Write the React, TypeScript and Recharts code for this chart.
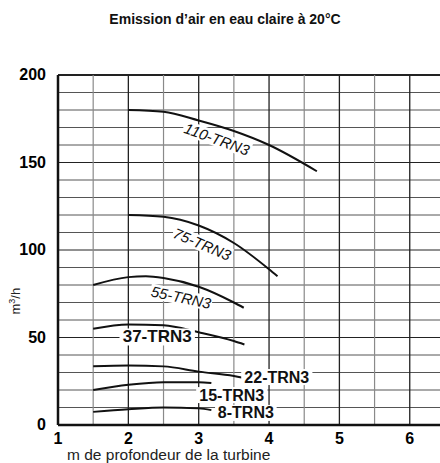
import React from "react";
import { LineChart, Line, XAxis, YAxis, ReferenceLine, ReferenceDot } from "recharts";

const xTicks = [1, 2, 3, 4, 5, 6];
const yTicks = [0, 50, 100, 150, 200];
const xGridMajor = [2, 3, 4, 5, 6];
const xGridMinor = [1.5, 2.5, 3.5, 4.5, 5.5];
const yGrid = [10, 20, 30, 40, 50, 60, 70, 80, 90, 100, 110, 120, 130, 140, 150, 160, 170, 180, 190, 200];

const s110 = [
  { x: 2.0, y: 180 }, { x: 2.5, y: 179 }, { x: 3.0, y: 174 }, { x: 3.5, y: 168 }, { x: 4.0, y: 160 }, { x: 4.68, y: 145 },
];
const s75 = [
  { x: 2.0, y: 120 }, { x: 2.5, y: 119 }, { x: 3.0, y: 114 }, { x: 3.5, y: 104 }, { x: 4.0, y: 89 }, { x: 4.12, y: 85 },
];
const s55 = [
  { x: 1.5, y: 80 }, { x: 2.0, y: 84.5 }, { x: 2.25, y: 85 }, { x: 2.5, y: 84 }, { x: 3.0, y: 79 }, { x: 3.5, y: 70 }, { x: 3.64, y: 67 },
];
const s37 = [
  { x: 1.5, y: 55 }, { x: 2.0, y: 57.5 }, { x: 2.5, y: 57 }, { x: 3.0, y: 53 }, { x: 3.5, y: 48 }, { x: 3.65, y: 46 },
];
const s22 = [
  { x: 1.5, y: 33.5 }, { x: 2.0, y: 34 }, { x: 2.5, y: 33.5 }, { x: 3.0, y: 30.5 }, { x: 3.5, y: 28 }, { x: 3.63, y: 27 },
];
const s15 = [
  { x: 1.5, y: 20 }, { x: 2.0, y: 23 }, { x: 2.5, y: 24.5 }, { x: 3.0, y: 24.5 }, { x: 3.18, y: 24 },
];
const s8 = [
  { x: 1.5, y: 7.5 }, { x: 2.0, y: 9 }, { x: 2.5, y: 10 }, { x: 3.0, y: 9.5 }, { x: 3.18, y: 8.5 },
];

const series = [s110, s75, s55, s37, s22, s15, s8];

const labels = [
  { text: "110-TRN3", x: 3.26, y: 163.4, angle: 20, italic: true, bold: false, size: 15 },
  { text: "75-TRN3", x: 3.05, y: 103.4, angle: 23, italic: true, bold: false, size: 15 },
  { text: "55-TRN3", x: 2.75, y: 73, angle: 12, italic: true, bold: false, size: 15 },
  { text: "37-TRN3", x: 2.41, y: 50.3, angle: 0, italic: false, bold: true, size: 17 },
  { text: "22-TRN3", x: 4.11, y: 27.4, angle: 0, italic: false, bold: true, size: 16 },
  { text: "15-TRN3", x: 3.47, y: 17.1, angle: 0, italic: false, bold: true, size: 16 },
  { text: "8-TRN3", x: 3.67, y: 6.9, angle: 0, italic: false, bold: true, size: 16 },
];

const FONT = "'Liberation Sans', Arial, Helvetica, sans-serif";

const makeShape = (l: any) => (props: any) => {
  const { cx, cy } = props;
  const w = l.text.length * l.size * (l.bold ? 0.6 : 0.56);
  const h = l.size * 1.0;
  return (
    <g transform={`translate(${cx},${cy}) rotate(${l.angle})`}>
      <rect x={-w / 2 - 2} y={-h / 2} width={w + 4} height={h} fill="#fff" />
      <text
        x={0}
        y={0}
        textAnchor="middle"
        dominantBaseline="central"
        fontFamily={FONT}
        fontSize={l.size}
        fontWeight={l.bold ? "bold" : "normal"}
        fontStyle={l.italic ? "italic" : "normal"}
        fill="#111"
      >
        {l.text}
      </text>
    </g>
  );
};

const XTick = (props: any) => {
  const { x, y, payload } = props;
  return (
    <text x={x} y={y} dy={12} textAnchor="middle" fontFamily={FONT} fontSize={16} fontWeight={700} fill="#000">
      {payload.value}
    </text>
  );
};

const YTick = (props: any) => {
  const { x, y, payload } = props;
  return (
    <text x={x} y={y} dy={5} textAnchor="end" fontFamily={FONT} fontSize={16} fontWeight={700} fill="#000">
      {payload.value}
    </text>
  );
};

export default function App() {
  return (
    <div style={{ position: "absolute", left: 0, top: 0, width: 440, height: 463, overflow: "hidden", background: "#fff", fontFamily: FONT }}>
      <div style={{ position: "absolute", left: 0, width: 450, top: 11, textAlign: "center", fontSize: 14, fontWeight: "bold", color: "#111" }}>
        Emission d’air en eau claire à 20°C
      </div>
      <div style={{ position: "absolute", left: -15, top: 293, width: 60, textAlign: "center", fontSize: 13, color: "#222", transform: "rotate(-90deg)" }}>
        m<sup style={{ fontSize: 9 }}>3</sup>/h
      </div>
      <div style={{ position: "absolute", left: 67, top: 446, fontSize: 15.5, lineHeight: "17px", color: "#222", whiteSpace: "nowrap" }}>
        m de profondeur de la turbine
      </div>
      <div style={{ position: "absolute", left: 0, top: 0 }}>
        <LineChart width={440} height={463} margin={{ top: 75, right: 0, bottom: 8, left: 18 }}>
          <XAxis
            type="number"
            dataKey="x"
            domain={[1, 6.43]}
            ticks={xTicks}
            allowDataOverflow
            height={30}
            tickLine={false}
            axisLine={{ stroke: "#111", strokeWidth: 2.5 }}
            tickMargin={1}
            tick={<XTick />}
          />
          <YAxis
            type="number"
            dataKey="y"
            domain={[0, 200]}
            ticks={yTicks}
            width={40}
            tickLine={false}
            axisLine={{ stroke: "#111", strokeWidth: 2.5 }}
            tickMargin={6}
            tick={<YTick />}
          />
          {yGrid.map((v) => (
            <ReferenceLine key={"h" + v} y={v} stroke={v % 50 === 0 ? "#222" : "#555"} strokeWidth={v === 200 ? 2 : 1} />
          ))}
          {xGridMinor.map((v) => (
            <ReferenceLine key={"vm" + v} x={v} stroke="#8a8a8a" strokeWidth={1.2} />
          ))}
          {xGridMajor.map((v) => (
            <ReferenceLine key={"vM" + v} x={v} stroke="#222" strokeWidth={1.3} />
          ))}
          {series.map((d, i) => (
            <Line
              key={i}
              data={d}
              dataKey="y"
              type="monotone"
              stroke="#111"
              strokeWidth={2}
              dot={false}
              isAnimationActive={false}
            />
          ))}
          {labels.map((l) => (
            <ReferenceDot key={l.text} x={l.x} y={l.y} r={0} shape={makeShape(l)} />
          ))}
        </LineChart>
      </div>
    </div>
  );
}
